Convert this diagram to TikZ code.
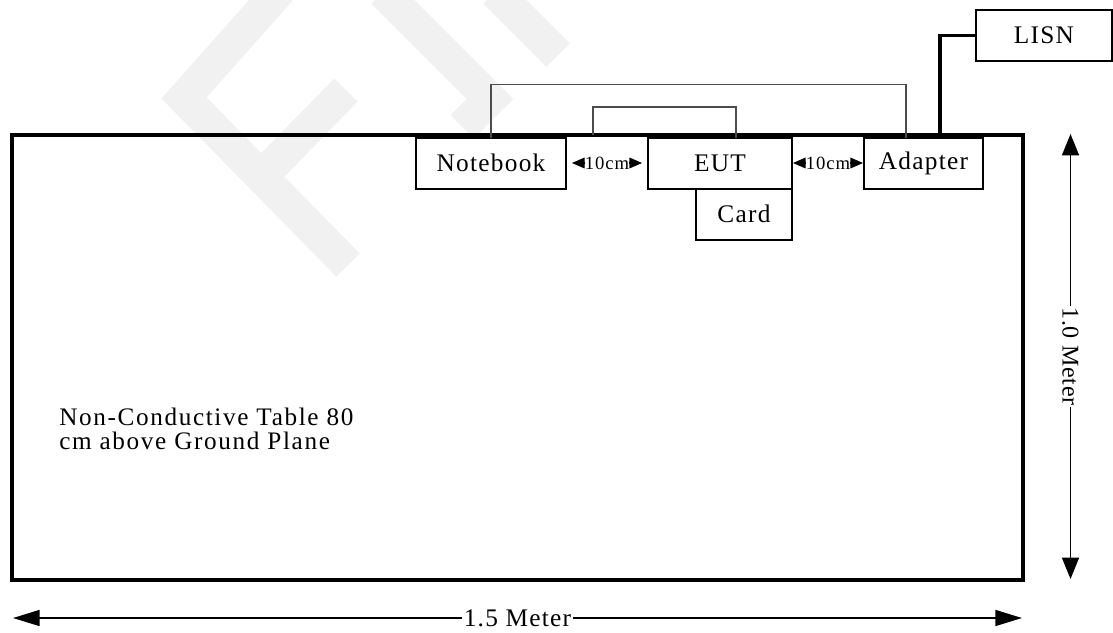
\documentclass[tikz,border=0pt]{standalone}
\usepackage{fontspec}
\setmainfont{Liberation Serif}
\newfontfamily\boxfont[LetterSpace=5]{Liberation Serif}
\newfontfamily\notefont[LetterSpace=6.5]{Liberation Serif}
\newfontfamily\dimfont[LetterSpace=3]{Liberation Serif}
\usetikzlibrary{arrows.meta, positioning, calc}
\definecolor{wmgray}{RGB}{241,241,241}
\tikzset{
    devbox/.style={draw, fill=white, line width=1.5pt, outer sep=0pt, inner sep=0pt, minimum height=38.25pt, font=\boxfont\fontsize{19pt}{22pt}\selectfont},
    tablebox/.style={draw, line width=2.6pt, outer sep=0pt, minimum width=758.25pt, minimum height=333.75pt},
    cable/.style={draw=black!70, line width=1pt},
    powercable/.style={line width=2.5pt},
    gaparrow/.style={{Triangle[length=9.4pt, width=8pt]}-{Triangle[length=9.4pt, width=8pt]}, line width=0.8pt},
    gaplabel/.style={fill=white, inner sep=0pt, font=\boxfont\fontsize{14pt}{16pt}\selectfont},
    hdim/.style={{Triangle[length=20pt, width=12pt]}-{Triangle[length=20pt, width=12pt]}, line width=1.1pt},
    vdim/.style={{Triangle[length=16pt, width=12.75pt]}-{Triangle[length=16pt, width=12.75pt]}, line width=1pt},
    dimlabel/.style={fill=white, inner xsep=1pt, inner ysep=0pt},
    watermark/.style={draw=wmgray, line width=24.75pt, line join=miter, line cap=butt}
}
\begin{document}
\begin{tikzpicture}[x=0.75pt, y=-0.75pt]
  \useasboundingbox (0,0) rectangle (1113,632);
  % faint logo behind the set-up
  \draw[watermark] (280,-10) -- (184,98) -- (348,265);
  \draw[watermark] (262,176) -- (346,90);
  \draw[watermark] (383,-8) -- (490,99) -- (462,127);
  \draw[watermark] (495,-8) -- (558,55);
  % table
  \node[tablebox] (table) at (517.5,357.5) {};
  \node[anchor=north west, inner sep=0pt, align=left,
        font=\notefont\fontsize{18.9pt}{18pt}\selectfont] (note) at (59,408)
        {Non-Conductive Table 80\\cm above Ground Plane};
  % devices
  \node[devbox, minimum width=112.5pt] (nb) at (491,163) {Notebook};
  \node[devbox, minimum width=108pt, right=61.5pt of nb] (eut) {EUT};
  \node[devbox, minimum width=72pt, anchor=north east] (card) at (eut.south east) {Card};
  \node[devbox, minimum width=89.25pt, right=54pt of eut] (adp) {Adapter};
  \node[devbox, minimum width=102pt, line width=1.2pt] (lisn) at (1044,35.5) {LISN};
  % cables
  \coordinate (usb) at (593,135);
  \draw[cable] (nb.north) -- ++(0,-53) -| ([xshift=-13.1pt]adp.north);
  \draw[cable] (usb) -- ++(0,-28) -| ([xshift=12pt]eut.north);
  \draw[powercable] ([xshift=12.4pt]adp.north) |- (lisn.west);
  % 10 cm spacing
  \draw[gaparrow, shorten <=4.5pt, shorten >=4.5pt] (nb.east) -- node[gaplabel] {10cm} (eut.west);
  \draw[gaparrow, shorten <=0.75pt, shorten >=0.75pt] (eut.east) -- node[gaplabel] {10cm} (adp.west);
  % table size
  \coordinate (hdimL) at ($(table.south west)+(1,38)$);
  \coordinate (hdimR) at ($(table.south east)+(-1,38)$);
  \coordinate (vdimT) at ($(table.north east)+(47.5,-1)$);
  \coordinate (vdimB) at ($(table.south east)+(47.5,-1)$);
  \draw[hdim] (hdimL) -- node[dimlabel, font=\boxfont\fontsize{19pt}{22pt}\selectfont] {1.5 Meter} (hdimR);
  \draw[vdim] (vdimT) -- node[dimlabel, rotate=-90, font=\dimfont\fontsize{18pt}{20pt}\selectfont] {1.0 Meter} (vdimB);
\end{tikzpicture}
\end{document}
